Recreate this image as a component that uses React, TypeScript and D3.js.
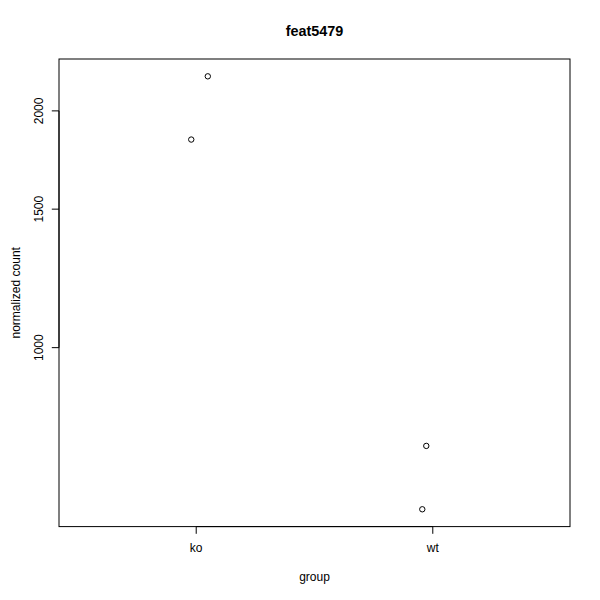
import React from "react";
import * as d3 from "d3";

const groups = ["ko", "wt"];
const pointGroup = ["ko", "ko", "wt", "wt"];
const pointJitter = [0.979, 1.049, 1.9725, 1.9556];
const pointCount = [1839, 2213, 750, 623];
const yTicks = [1000, 1500, 2000];

const W = 600, H = 600;
const left = 59, right = 570, top = 59, bottom = 526.6;

export default function App() {
  const ext = (a: number, b: number) => {
    const d = (b - a) * 0.04;
    return [a - d, b + d];
  };
  const xd = ext(0.5, 2.5);
  const x = d3.scaleLinear().domain(xd).range([left, right]);
  const lmin = Math.log10(d3.min(pointCount)!);
  const lmax = Math.log10(d3.max(pointCount)!);
  const yd = ext(lmin, lmax);
  const y = d3.scaleLog().domain([10 ** yd[0], 10 ** yd[1]]).range([bottom, top]);
  const font = "'Liberation Sans', Arial, sans-serif";
  return (
    <svg width={W} height={H} style={{ display: "block", position: "absolute", left: 0, top: 0 }} fontFamily={font}>
      <rect x={0} y={0} width={W} height={H} fill="white" />
      <text x={(left + right) / 2} y={36} textAnchor="middle" fontWeight="bold" fontSize={14.4}>feat5479</text>
      <rect x={left} y={top} width={right - left} height={bottom - top} fill="none" stroke="black" strokeWidth={1} />
      {groups.map((g, i) => (
        <g key={g}>
          <line x1={x(i + 1)} x2={x(i + 1)} y1={bottom} y2={bottom + 7.2} stroke="black" />
          <text x={x(i + 1)} y={552} textAnchor="middle" fontSize={12}>{g}</text>
        </g>
      ))}
      <line x1={x(1)} x2={x(2)} y1={bottom} y2={bottom} stroke="black" />
      {yTicks.map((t) => (
        <g key={t}>
          <line x1={left - 7.2} x2={left} y1={y(t)} y2={y(t)} stroke="black" />
          <text transform={`translate(43,${y(t)}) rotate(-90)`} textAnchor="middle" fontSize={12}>{t}</text>
        </g>
      ))}
      <line x1={left} x2={left} y1={y(yTicks[0])} y2={y(yTicks[yTicks.length - 1])} stroke="black" />
      <text x={(left + right) / 2} y={581} textAnchor="middle" fontSize={12}>group</text>
      <text transform={`translate(20,${(top + bottom) / 2}) rotate(-90)`} textAnchor="middle" fontSize={12}>normalized count</text>
      {pointCount.map((c, i) => (
        <circle key={i} cx={x(pointJitter[i] + groups.indexOf(pointGroup[i]) * 0)} cy={y(c)} r={2.7} fill="none" stroke="black" strokeWidth={1} />
      ))}
    </svg>
  );
}
